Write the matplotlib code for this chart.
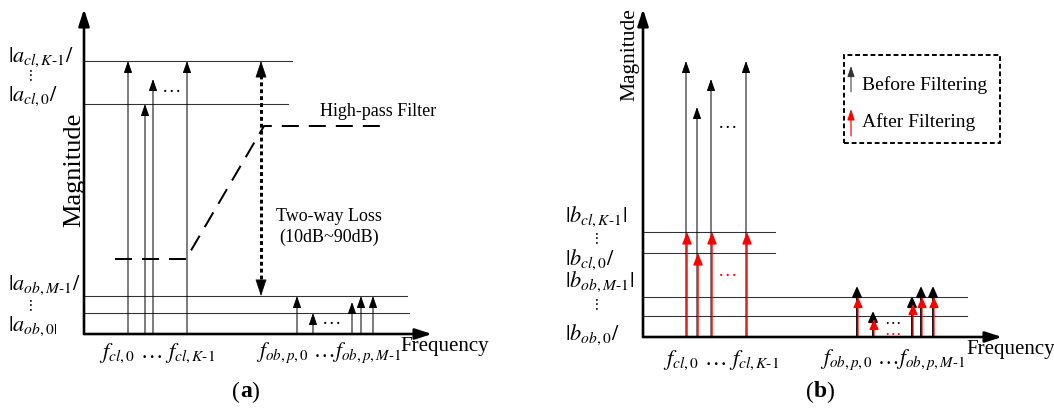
import matplotlib
matplotlib.use("Agg")
import matplotlib.pyplot as plt
from matplotlib.patches import Rectangle

plt.rcParams['font.family'] = ['Liberation Serif', 'DejaVu Serif']
plt.rcParams['mathtext.fontset'] = 'stix'

# ---- panel (a) values (frequency / magnitude, schematic units) ----
a_cl_freq = [44, 61, 69, 103]
a_cl_mag = [273, 230, 255, 273]
a_ob_freq = [213, 229, 268, 277, 289]
a_ob_mag = [38, 21, 32, 38, 38]
a_levels = [273, 230, 38, 21]
a_level_ends = [208, 204, 323, 325]
a_level_labels = [r'$|a_{cl,K\text{-}1}/$', r'$|a_{cl,0}/$',
                  r'$|a_{ob,M\text{-}1}/$', r'$|a_{ob,0|}$']
filter_f = [31, 102, 180, 304]
filter_mag = [75, 75, 208, 208]

# ---- panel (b) values ----
b_cl_freq = [43, 54, 68, 103]
b_cl_before = [276, 230, 258, 276]
b_cl_after = [105, 84, 105, 105]
b_ob_freq = [214, 230, 269, 278, 290]
b_ob_before = [51, 26, 41, 51, 51]
b_ob_after = [40, 18, 33, 40, 40]
b_levels = [105, 84, 40, 21]
b_level_ends = [132, 132, 324, 324]
b_level_labels = [r'$|b_{cl,K\text{-}1}|$', r'$|b_{cl,0}/$',
                  r'$|b_{ob,M\text{-}1}|$', r'$|b_{ob,0}/$']

PX = 0.72  # points per pixel at dpi 100


def up_arrow(ax, x, y0, y1, color='k', lw=1.0, hl=10, hw=3.5, z=3):
    ax.annotate('', xy=(x, y1), xytext=(x, y0),
                arrowprops=dict(arrowstyle=f'-|>,head_length={hl*PX},head_width={hw*PX}',
                                mutation_scale=1, color=color, lw=lw * PX,
                                shrinkA=0, shrinkB=0), zorder=z)


def axis_arrows(ax, xmax, ymax):
    for xy in [(0, ymax), (xmax, 0)]:
        ax.annotate('', xy=xy, xytext=(0, 0),
                    arrowprops=dict(arrowstyle=f'-|>,head_length={14*PX},head_width={4.5*PX}',
                                    mutation_scale=1, color='k', lw=2.6 * PX,
                                    shrinkA=0, shrinkB=0), zorder=5)


fig = plt.figure(figsize=(10.54, 4.10), dpi=100)
ax_a = fig.add_axes([0, 0, 0.5, 1])
ax_a.set_xlim(-84, 443)
ax_a.set_ylim(-75, 335)
ax_b = fig.add_axes([0.5, 0, 0.5, 1])
ax_b.set_xlim(-116, 411)
ax_b.set_ylim(-72, 338)
for ax in (ax_a, ax_b):
    ax.axis('off')

# ================= panel (a) =================
for lv, end in zip(a_levels, a_level_ends):
    ax_a.plot([0, end], [lv, lv], color='#333333', lw=0.9 * PX * 1.2, zorder=2)
for f, m in zip(a_cl_freq, a_cl_mag):
    up_arrow(ax_a, f, 0, m)
for f, m in zip(a_ob_freq, a_ob_mag):
    up_arrow(ax_a, f, 0, m)
axis_arrows(ax_a, 348, 325)

ax_a.plot(filter_f, filter_mag, color='k', lw=2 * PX, dashes=(8.5, 5), zorder=4)
ax_a.text(294, 223, 'High-pass Filter', fontsize=13, ha='center', va='center')

# two-way loss double arrow
loss_x = 177
top, bot = a_levels[0], a_levels[2]
ax_a.plot([loss_x, loss_x], [top - 14, bot + 14], color='k', lw=3 * PX,
          dashes=(1.3, 1.0), zorder=4)
for tip, base in [(top, top - 15), (bot, bot + 15)]:
    ax_a.annotate('', xy=(loss_x, tip), xytext=(loss_x, base),
                  arrowprops=dict(arrowstyle=f'-|>,head_length={15*PX},head_width={5*PX}',
                                  mutation_scale=1, color='k', lw=0.5,
                                  shrinkA=0, shrinkB=0), zorder=4)
ax_a.text(245, 118, 'Two-way Loss', fontsize=13, ha='center', va='center')
ax_a.text(245, 98, '(10dB~90dB)', fontsize=13, ha='center', va='center')

ax_a.text(88, 247, '…', fontsize=14, ha='center', va='center')
ax_a.text(248, 15, '…', fontsize=14, ha='center', va='center')

label_y_a = [278, 239, 50, 9]
for lab, y in zip(a_level_labels, label_y_a):
    ax_a.text(-76, y, lab, fontsize=16, ha='left', va='center')
ax_a.text(-55, 259, r'$\vdots$', fontsize=11, ha='center', va='center')
ax_a.text(-55, 29, r'$\vdots$', fontsize=11, ha='center', va='center')

ax_a.text(-10, 165, 'Magnitude', fontsize=19, rotation=90, ha='center', va='center')
ax_a.text(73, -18, r'$f_{cl,0}$ … $f_{cl,K\text{-}1}$', fontsize=16, ha='center', va='center')
ax_a.text(245, -18, r'$f_{ob,p,0}$ …$f_{ob,p,M\text{-}1}$', fontsize=15.5, ha='center', va='center')
ax_a.text(316, -12, 'Frequency', fontsize=15, ha='left', va='center')
ax_a.text(156, -57, '(', fontsize=17, ha='right', va='center')
ax_a.text(156, -57, 'a', fontsize=17, fontweight='bold', ha='left', va='center')
ax_a.text(167, -57, ')', fontsize=17, ha='left', va='center')

# ================= panel (b) =================
for lv, end in zip(b_levels, b_level_ends):
    ax_b.plot([0, end], [lv, lv], color='#333333', lw=0.9 * PX * 1.2, zorder=2)
for f, mb, ma in zip(b_cl_freq, b_cl_before, b_cl_after):
    up_arrow(ax_b, f, 0, mb, color='k', lw=1.0)
    up_arrow(ax_b, f + 1, 0, ma, color='red', lw=1.4, hw=4, z=4)
for f, mb, ma in zip(b_ob_freq, b_ob_before, b_ob_after):
    up_arrow(ax_b, f, 0, mb, color='k', lw=1.8, hw=4, hl=9)
    up_arrow(ax_b, f + 1, 0, ma, color='red', lw=1.2, hw=4, hl=9, z=4)
axis_arrows(ax_b, 359, 328)

ax_b.text(85, 215, '…', fontsize=14, ha='center', va='center', color='k')
ax_b.text(85, 67, '…', fontsize=14, ha='center', va='center', color='red')
ax_b.text(250, 18, '…', fontsize=12, ha='center', va='center', color='k')
ax_b.text(250, 7, '…', fontsize=12, ha='center', va='center', color='red')

label_y_b = [121, 78, 56, 3]
for lab, y in zip(b_level_labels, label_y_b):
    ax_b.text(-78, y, lab, fontsize=16, ha='left', va='center')
ax_b.text(-48, 99, r'$\vdots$', fontsize=11, ha='center', va='center')
ax_b.text(-48, 33, r'$\vdots$', fontsize=11, ha='center', va='center')

ax_b.text(-13, 283, 'Magnitude', fontsize=15.5, rotation=90, ha='center', va='center')
ax_b.text(78, -22, r'$f_{cl,0}$ … $f_{cl,K\text{-}1}$', fontsize=16, ha='center', va='center')
ax_b.text(250, -22, r'$f_{ob,p,0}$ …$f_{ob,p,M\text{-}1}$', fontsize=15.5, ha='center', va='center')
ax_b.text(323, -12, 'Frequency', fontsize=15, ha='left', va='center')
ax_b.text(171, -54, '(', fontsize=17, ha='right', va='center')
ax_b.text(171, -54, 'b', fontsize=17, fontweight='bold', ha='left', va='center')
ax_b.text(183, -54, ')', fontsize=17, ha='left', va='center')

# legend box
ax_b.add_patch(Rectangle((201, 194), 156, 88, fill=False, lw=1.6 * PX * 1.2,
                         ls=(0, (2.5, 1.5)), edgecolor='k'))
up_arrow(ax_b, 208, 245, 271, color='#333333', lw=1.0, hl=9, hw=3)
up_arrow(ax_b, 208, 201, 228, color='red', lw=1.2, hl=9, hw=3)
ax_b.text(219, 253, 'Before Filtering', fontsize=14, ha='left', va='center')
ax_b.text(219, 216, 'After Filtering', fontsize=14, ha='left', va='center')

fig.savefig('out.png', dpi=100)
